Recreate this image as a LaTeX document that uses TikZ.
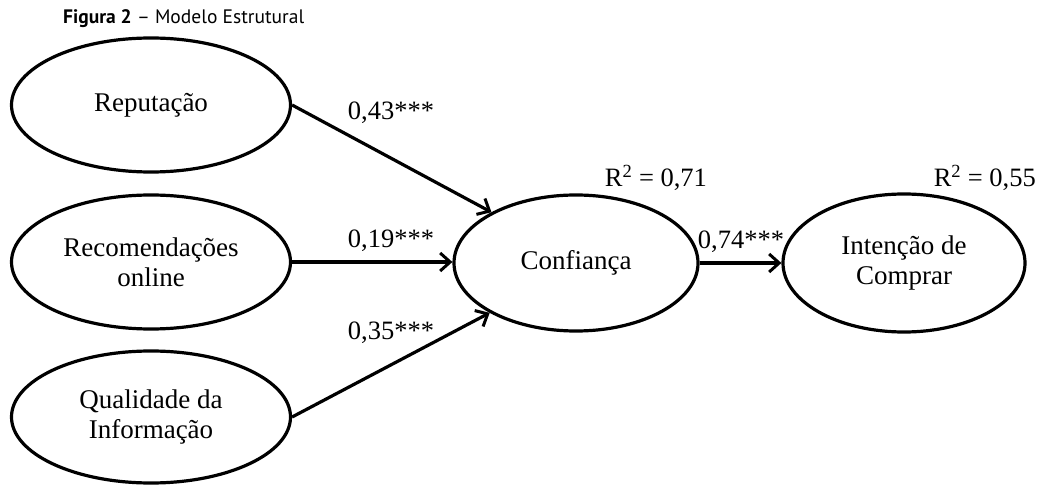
\documentclass[tikz,border=0pt]{standalone}
\usepackage{fontspec}
\setmainfont{Liberation Serif}
\newfontfamily\titlefont{PT Sans}
\usetikzlibrary{arrows.meta,shapes.geometric}
\begin{document}
\begin{tikzpicture}[x=1pt,y=-1pt,
  lat/.style={draw,line width=3.2pt,ellipse,minimum width=279pt,minimum height=134pt,inner sep=0pt,align=center,font=\fontsize{27}{30}\selectfont},
  path/.style={line width=3.2pt,-{Straight Barb[length=10pt,width=18pt,line width=3pt]}},
  lbl/.style={font=\fontsize{26.5}{29}\selectfont,inner sep=0pt}]
\useasboundingbox (0,0) rectangle (1047,486);
\node[anchor=west,inner sep=0pt,font=\titlefont\fontsize{19.5}{22}\selectfont] (title) at (63,19) {\textbf{Figura 2} – Modelo Estrutural};
\node[lat] (rep) at (151,105) {Reputação};
\node[lat] (rec) at (151,262) {Recomendações\\online};
\node[lat,minimum height=132pt] (qual) at (151,417) {Qualidade da\\Informação};
\node[lat,minimum width=244pt,minimum height=136pt] (conf) at (576,263) {Confiança};
\node[lat,minimum width=242pt,minimum height=138pt] (int) at (904,263) {Intenção de\\Comprar};
\draw[path] (rep.east) -- (conf.149);
\draw[path] (rec.east) -- (rec.east -| conf.west);
\draw[path] (qual.east) -- (conf.-150);
\draw[path] (conf.east) -- (int.west);
\node[lbl] (l1) at (391,113) {0,43***};
\node[lbl] (l2) at (391,241) {0,19***};
\node[lbl] (l3) at (391,333) {0,35***};
\node[lbl] (l4) at (741,242) {0,74***};
\node[lbl] (r1) at (656,178) {R\textsuperscript{2} = 0,71};
\node[lbl,anchor=east] (r2) at (1036,178) {R\textsuperscript{2} = 0,55};
\end{tikzpicture}
\end{document}
